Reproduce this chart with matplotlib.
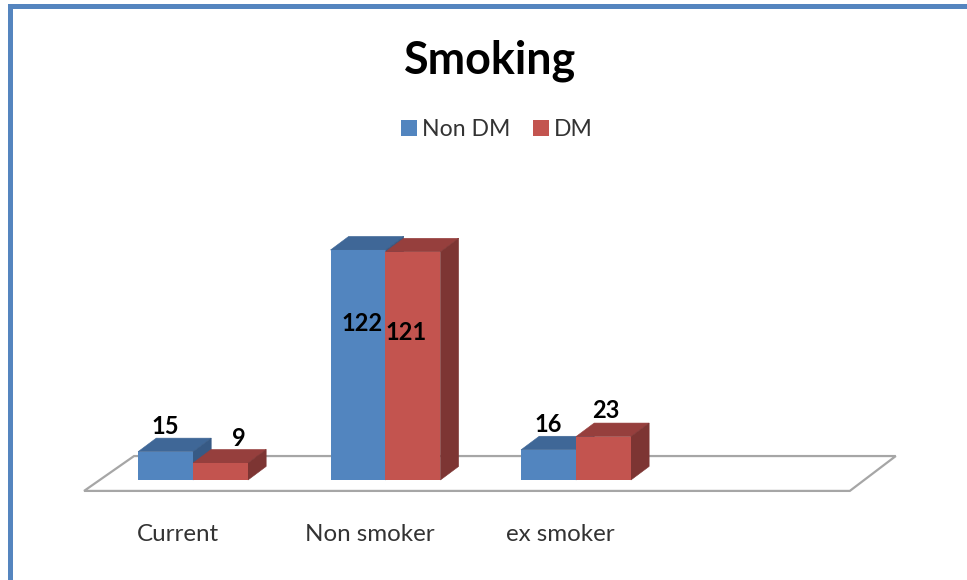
import matplotlib
matplotlib.use("Agg")
import matplotlib.pyplot as plt
from matplotlib.patches import Polygon, Rectangle

plt.rcParams['font.family'] = ['Lato', 'DejaVu Sans']

categories = ['Current', 'Non smoker', 'ex smoker']
non_dm = [15, 122, 16]
dm = [9, 121, 23]

BLUE = ('#5285BF', '#3F6797', '#375A85')
RED = ('#C3544F', '#963F3D', '#7D3533')

centres = [0, 1.005, 2.0]
bar_w = 0.287
depth_x = 0.095
depth_y = 7.2


def draw_bar(ax, x, h, colours, label):
    # front face from bar(), then the top and right side as polygons
    bars = ax.bar(x, h, bar_w, align='edge', color=colours[0], zorder=3, label=label)
    top = [(x, h), (x + bar_w, h), (x + bar_w + depth_x, h + depth_y), (x + depth_x, h + depth_y)]
    side = [(x + bar_w, 0), (x + bar_w + depth_x, depth_y), (x + bar_w + depth_x, h + depth_y), (x + bar_w, h)]
    ax.add_patch(Polygon(top, closed=True, fc=colours[1], ec=colours[1], lw=0.4, zorder=2.9))
    ax.add_patch(Polygon(side, closed=True, fc=colours[2], ec=colours[2], lw=0.4, zorder=2.9))
    return bars


fig = plt.figure(figsize=(9.67, 5.8), dpi=100)
ax = fig.add_axes([0, 0, 1, 1])
ax.set_xlim(-1.008, 4.042)
ax.set_ylim(-53.05, 254.6)
ax.axis('off')

# chart border, left and top only
fig.add_artist(Rectangle((8 / 967, 0), 5 / 967, 576 / 580, transform=fig.transFigure, fc='#5585BF', ec='none'))
fig.add_artist(Rectangle((8 / 967, 571 / 580), 959 / 967, 5 / 580, transform=fig.transFigure, fc='#5585BF', ec='none'))

# floor of the 3d plot
floor = [(-0.569, -5.8), (3.43, -5.8), (3.67, 12.7), (-0.308, 12.7)]
ax.add_patch(Polygon(floor, closed=True, fc='white', ec='#A6A6A6', lw=1.6, zorder=1))

for i, c in enumerate(centres):
    draw_bar(ax, c - bar_w, non_dm[i], BLUE, 'Non DM' if i == 0 else None)
    draw_bar(ax, c, dm[i], RED, 'DM' if i == 0 else None)
    ax.text(c - 0.08, -28.8, categories[i], ha='center', va='center', fontsize=17.4, color='#333333')

# value labels sit above the small bars, inside the tall ones
label_offsets = {
    (0, 0): (0, 18.5), (0, 1): (13, 17.5),
    (1, 0): (3, -53), (1, 1): (-5, -58),
    (2, 0): (0, 18), (2, 1): (2, 18.5),
}
for i, c in enumerate(centres):
    for j, vals in enumerate([non_dm, dm]):
        x = c - bar_w / 2 if j == 0 else c + bar_w / 2
        ax.annotate(str(vals[i]), (x, vals[i]), xytext=label_offsets[(i, j)], textcoords='offset points',
                    ha='center', va='center', fontsize=17, fontweight='bold', color='black', zorder=5)

ax.text(0.507, 0.895, 'Smoking', transform=ax.transAxes, ha='center', va='center',
        fontsize=32.3, fontweight='bold', color='black')

ax.legend(loc='center', bbox_to_anchor=(0.514, 0.777), ncol=2, frameon=False, fontsize=16.6,
          handlelength=0.7, handleheight=0.7, handletextpad=0.2, columnspacing=1.0, labelcolor='#333333')

fig.savefig('out.png', dpi=100)
